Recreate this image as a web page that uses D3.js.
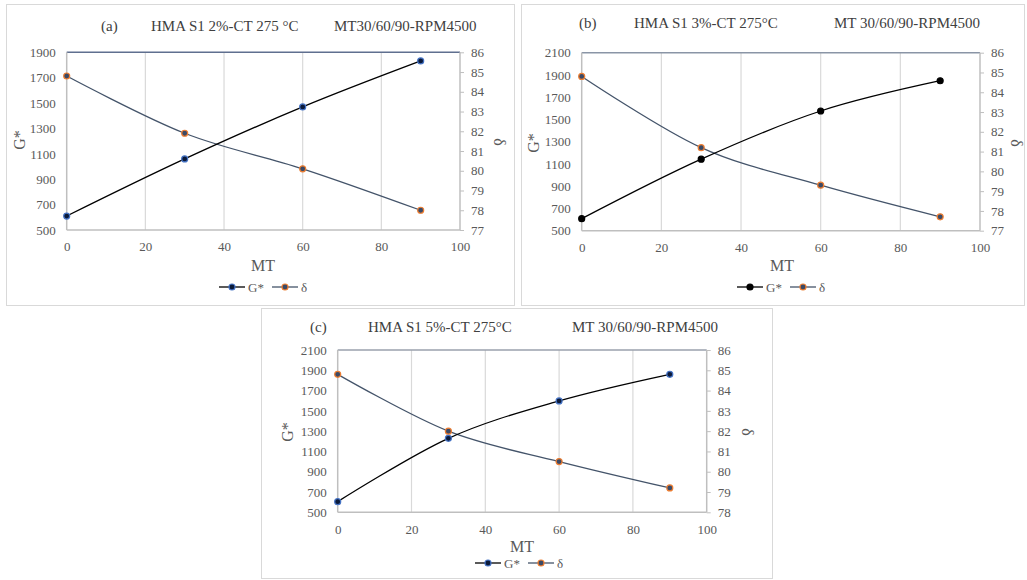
<!DOCTYPE html>
<html>
<head>
<meta charset="utf-8">
<script src="https://cdn.jsdelivr.net/npm/d3@7"></script>
<style>
  html, body { margin: 0; padding: 0; background: #fff; }
  svg { display: block; }
</style>
</head>
<body>
<svg id="chart" width="1027" height="580"></svg>
<script>
// ---------- DATA ----------
const mt = [0, 30, 60, 90];
const xTicks = [0, 20, 40, 60, 80, 100];

const gStarA = [610, 1060, 1470, 1832];
const deltaA = [84.8, 81.9, 80.1, 78.0];
const gStarB = [608, 1143, 1576, 1848];
const deltaB = [84.8, 81.2, 79.3, 77.7];
const gStarC = [605, 1229, 1598, 1860];
const deltaC = [84.8, 82.0, 80.5, 79.2];

const leftTicksA = [500, 700, 900, 1100, 1300, 1500, 1700, 1900];
const leftTicksBC = [500, 700, 900, 1100, 1300, 1500, 1700, 1900, 2100];
const rightTicksAB = [77, 78, 79, 80, 81, 82, 83, 84, 85, 86];
const rightTicksC = [78, 79, 80, 81, 82, 83, 84, 85, 86];

const titlesA = ["(a)", "HMA S1 2%-CT 275 °C", "MT30/60/90-RPM4500"];
const titlesB = ["(b)", "HMA S1 3%-CT 275°C", "MT 30/60/90-RPM4500"];
const titlesC = ["(c)", "HMA S1 5%-CT 275°C", "MT 30/60/90-RPM4500"];
const seriesNames = ["G*", "δ"];
const xTitle = "MT";

// ---------- LAYOUT ----------
const FONT = '"Liberation Serif", "Times New Roman", serif';
const panels = [
  { box: [6, 4, 515, 306], plot: [66.7, 52.3, 460, 230], g: gStarA, d: deltaA,
    lt: leftTicksA, rt: rightTicksAB, titles: titlesA, titleY: 31, titleX: [101, 151, 334],
    mtPos: [263, 271], gPos: [19, 140], dPos: [500, 142], legY: 287, legX: 219,
    gFill: "#0b1a3a", gStroke: "#4472c4", topColor: "#5f6f8f" },
  { box: [521, 4, 1025, 306], plot: [581.7, 52.7, 980, 230.7], g: gStarB, d: deltaB,
    lt: leftTicksBC, rt: rightTicksAB, titles: titlesB, titleY: 28, titleX: [579, 634, 834],
    mtPos: [782, 271], gPos: [533, 143], dPos: [1017, 143], legY: 287, legX: 737,
    gFill: "#000000", gStroke: "#000000", topColor: "#8a95a6" },
  { box: [261, 308, 773, 579], plot: [337.7, 350, 706.7, 512.3], g: gStarC, d: deltaC,
    lt: leftTicksBC, rt: rightTicksC, titles: titlesC, titleY: 332, titleX: [310, 368, 572],
    mtPos: [522, 552], gPos: [287, 432], dPos: [748, 432], legY: 563, legX: 475,
    gFill: "#0b1a3a", gStroke: "#4472c4", topColor: "#9aa1ad" }
];

const svg = d3.select("#chart");
const tickColor = "#595959";
const axisColor = "#bfbfbf";
const gridColor = "#d9d9d9";
const deltaLine = "#44546a";
const deltaFill = "#3b4a66";
const deltaStroke = "#ed7d31";

function txt(sel, size, color) {
  return sel.attr("font-family", FONT).style("font-family", FONT)
    .style("font-size", size + "px").attr("fill", color);
}

panels.forEach(p => {
  const [bx0, by0, bx1, by1] = p.box;
  const [px0, py0, px1, py1] = p.plot;
  const g = svg.append("g");

  g.append("rect").attr("x", bx0 + 0.5).attr("y", by0 + 0.5)
    .attr("width", bx1 - bx0 - 1).attr("height", by1 - by0 - 1)
    .attr("fill", "#fff").attr("stroke", "#d9d9d9").attr("stroke-width", 1);

  const x = d3.scaleLinear().domain([0, 100]).range([px0, px1]);
  const yL = d3.scaleLinear().domain([p.lt[0], p.lt[p.lt.length - 1]]).range([py1, py0]);
  const yR = d3.scaleLinear().domain([p.rt[0], p.rt[p.rt.length - 1]]).range([py1, py0]);

  // vertical gridlines
  g.append("g").selectAll("line").data(xTicks.slice(1, -1)).join("line")
    .attr("x1", d => x(d)).attr("x2", d => x(d)).attr("y1", py0).attr("y2", py1)
    .attr("stroke", gridColor).attr("stroke-width", 1.2);

  // plot border
  g.append("line").attr("x1", px0).attr("x2", px1).attr("y1", py0).attr("y2", py0)
    .attr("stroke", p.topColor).attr("stroke-width", 1.5);
  g.append("line").attr("x1", px0).attr("x2", px1).attr("y1", py1).attr("y2", py1)
    .attr("stroke", axisColor).attr("stroke-width", 1.5);
  g.append("line").attr("x1", px0).attr("x2", px0).attr("y1", py0).attr("y2", py1)
    .attr("stroke", axisColor).attr("stroke-width", 1.5);
  g.append("line").attr("x1", px1).attr("x2", px1).attr("y1", py0).attr("y2", py1)
    .attr("stroke", axisColor).attr("stroke-width", 1.5);

  // axes
  const fmt = d3.format("d");
  const axL = d3.axisLeft(yL).tickValues(p.lt).tickFormat(fmt).tickSize(0).tickPadding(11);
  const axR = d3.axisRight(yR).tickValues(p.rt).tickFormat(fmt).tickSize(4).tickPadding(7);
  const axB = d3.axisBottom(x).tickValues(xTicks).tickFormat(fmt).tickSize(0).tickPadding(12);

  const gl = g.append("g").attr("transform", `translate(${px0},0)`).call(axL);
  const gr = g.append("g").attr("transform", `translate(${px1},0)`).call(axR);
  const gb = g.append("g").attr("transform", `translate(0,${py1})`).call(axB);
  [gl, gr, gb].forEach(a => {
    a.attr("font-family", FONT).attr("font-size", 13);
    a.select(".domain").remove();
    txt(a.selectAll("text"), 13, tickColor);
    a.selectAll("line").attr("stroke", axisColor);
  });

  // titles
  p.titles.forEach((t, i) => {
    txt(g.append("text").attr("x", p.titleX[i]).attr("y", p.titleY), 15, "#404040").text(t);
  });

  // axis titles
  txt(g.append("text").attr("x", p.mtPos[0]).attr("y", p.mtPos[1])
    .attr("text-anchor", "middle"), 16, tickColor).text(xTitle);
  txt(g.append("text").attr("transform", `translate(${p.gPos[0]},${p.gPos[1]}) rotate(-90)`)
    .attr("text-anchor", "middle").attr("dy", "0.35em"), 16, tickColor).text(seriesNames[0]);
  txt(g.append("text").attr("transform", `translate(${p.dPos[0]},${p.dPos[1]}) rotate(90)`)
    .attr("text-anchor", "middle").attr("dy", "0.35em"), 16, tickColor).text(seriesNames[1]);

  // lines
  const curve = d3.curveCardinal.tension(0);
  const lineG = d3.line().x((d, i) => x(mt[i])).y(d => yL(d)).curve(curve);
  const lineD = d3.line().x((d, i) => x(mt[i])).y(d => yR(d)).curve(curve);

  g.append("path").attr("d", lineD(p.d)).attr("fill", "none")
    .attr("stroke", deltaLine).attr("stroke-width", 1.3);
  g.append("path").attr("d", lineG(p.g)).attr("fill", "none")
    .attr("stroke", "#000").attr("stroke-width", 1.3);

  g.append("g").selectAll("circle").data(p.d).join("circle")
    .attr("cx", (d, i) => x(mt[i])).attr("cy", d => yR(d)).attr("r", 3)
    .attr("fill", deltaFill).attr("stroke", deltaStroke).attr("stroke-width", 1.2);
  g.append("g").selectAll("circle").data(p.g).join("circle")
    .attr("cx", (d, i) => x(mt[i])).attr("cy", d => yL(d)).attr("r", 3)
    .attr("fill", p.gFill).attr("stroke", p.gStroke).attr("stroke-width", 1.2);

  // legend
  const lx = p.legX, ly = p.legY;
  const leg = g.append("g");
  leg.append("line").attr("x1", lx).attr("x2", lx + 26).attr("y1", ly).attr("y2", ly)
    .attr("stroke", "#000").attr("stroke-width", 1.3);
  leg.append("circle").attr("cx", lx + 13).attr("cy", ly).attr("r", 3)
    .attr("fill", p.gFill).attr("stroke", p.gStroke).attr("stroke-width", 1.2);
  txt(leg.append("text").attr("x", lx + 29).attr("y", ly).attr("dy", "0.35em"), 13, tickColor)
    .text(seriesNames[0]);
  leg.append("line").attr("x1", lx + 53).attr("x2", lx + 79).attr("y1", ly).attr("y2", ly)
    .attr("stroke", deltaLine).attr("stroke-width", 1.3);
  leg.append("circle").attr("cx", lx + 66).attr("cy", ly).attr("r", 3)
    .attr("fill", deltaFill).attr("stroke", deltaStroke).attr("stroke-width", 1.2);
  txt(leg.append("text").attr("x", lx + 82).attr("y", ly).attr("dy", "0.35em"), 13, tickColor)
    .text(seriesNames[1]);
});
</script>
</body>
</html>
